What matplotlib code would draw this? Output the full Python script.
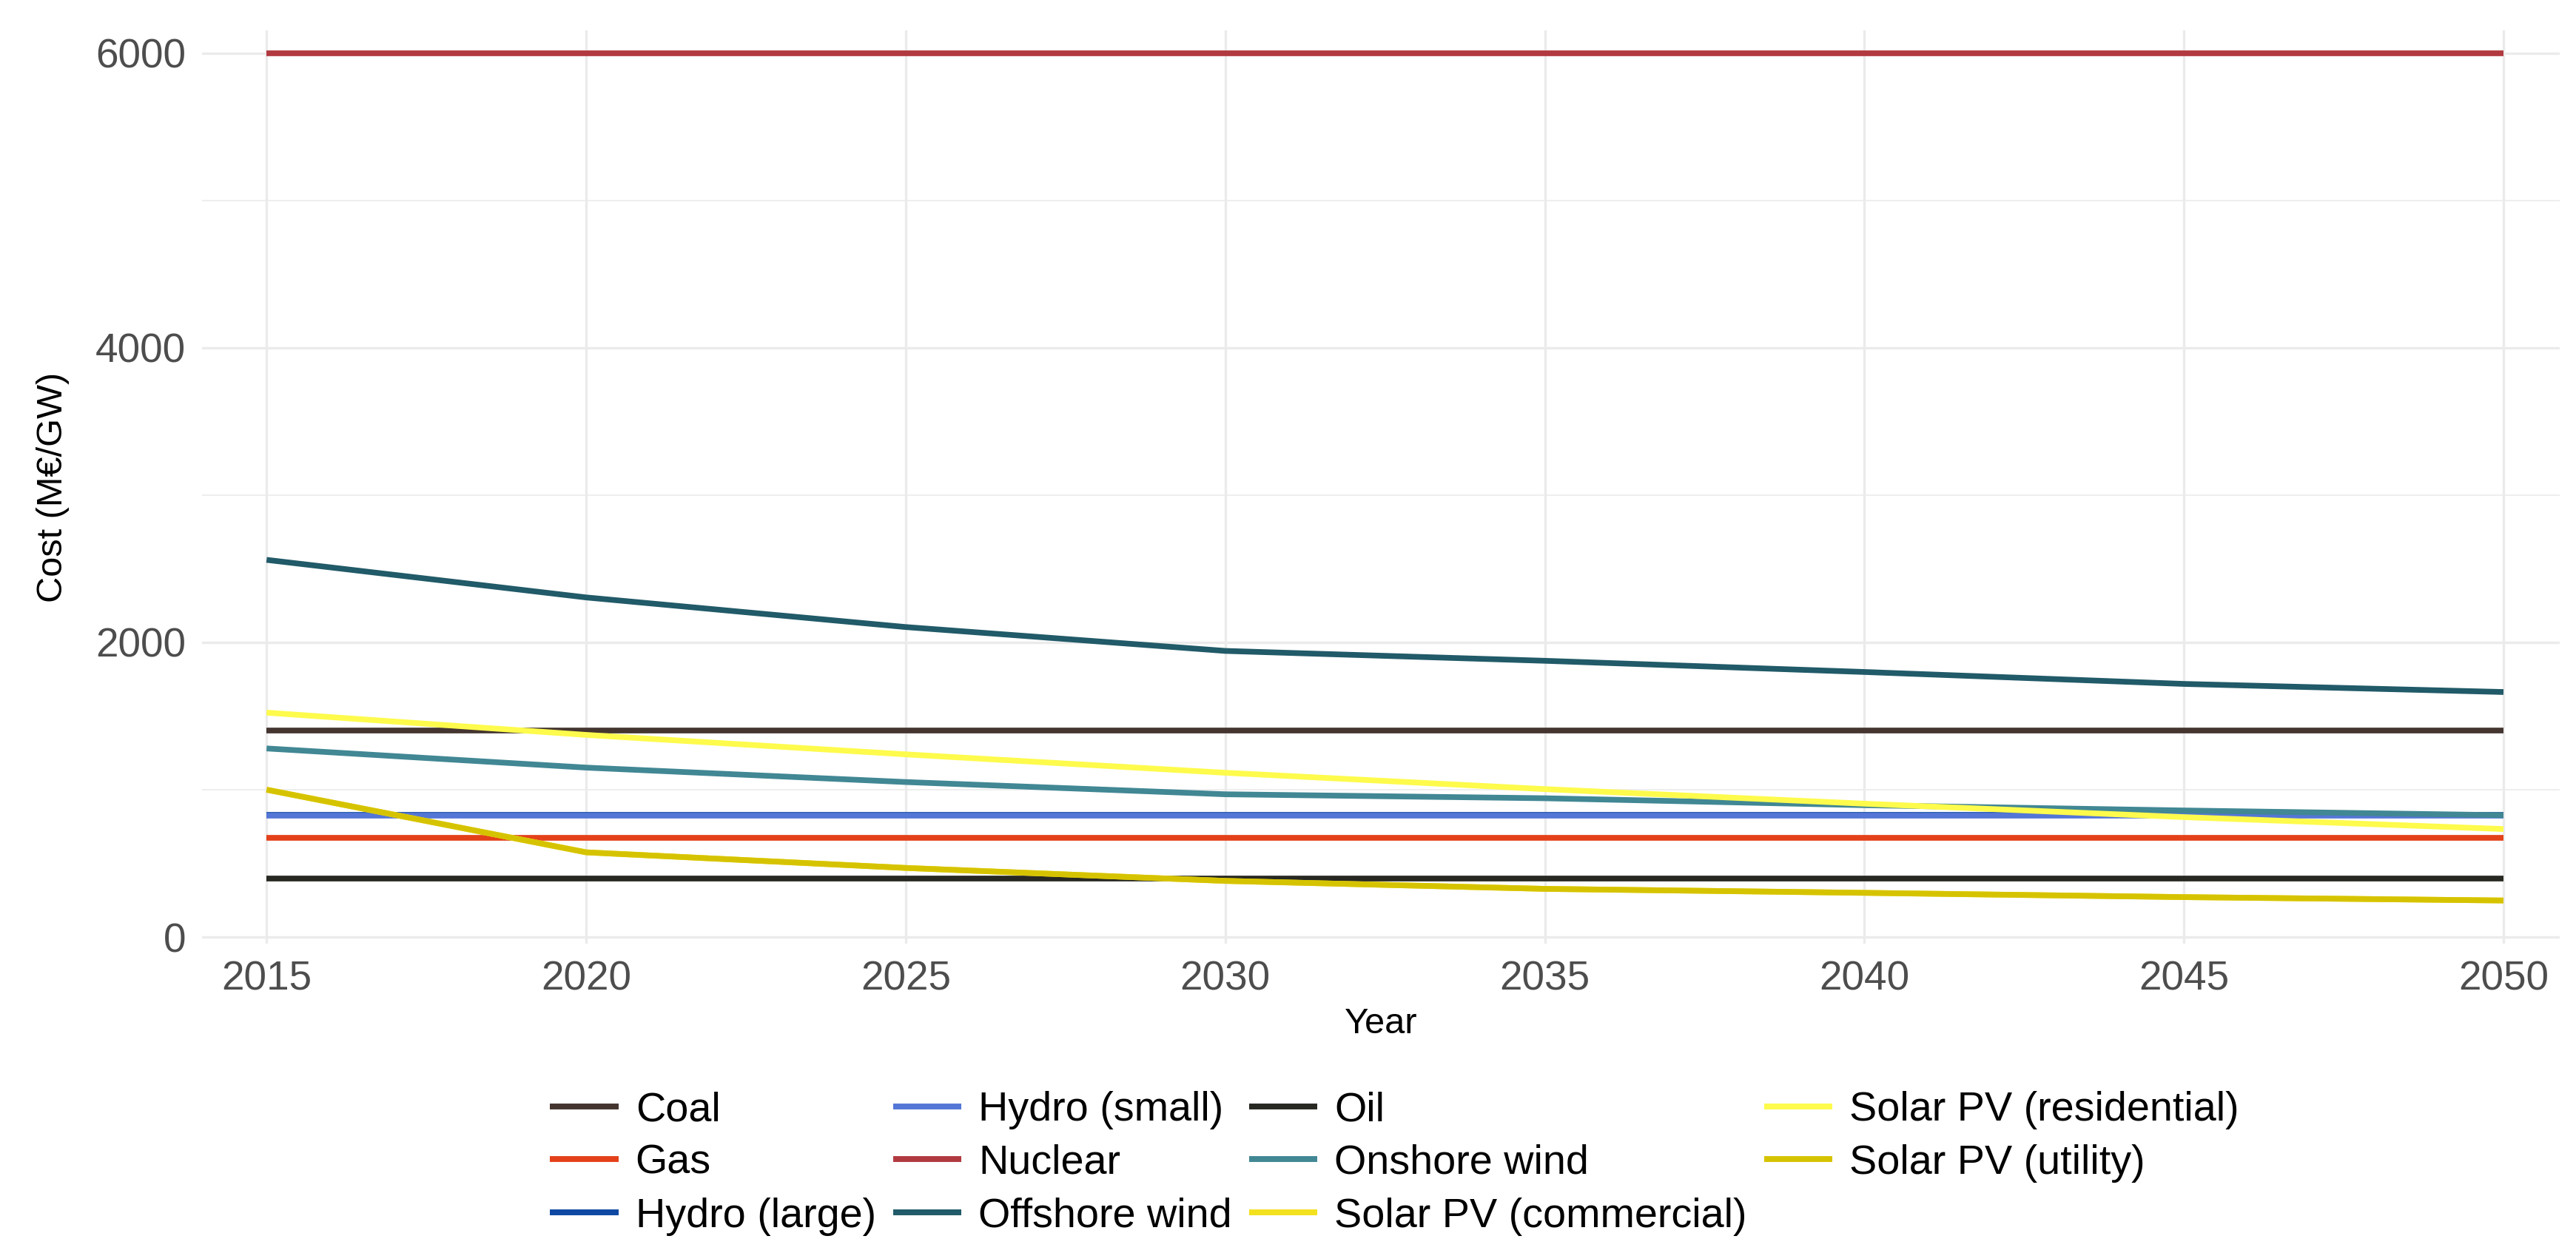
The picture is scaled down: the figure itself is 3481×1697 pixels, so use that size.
import matplotlib
matplotlib.use("Agg")
import matplotlib.pyplot as plt
from matplotlib.ticker import MultipleLocator

plt.rcParams['font.family'] = ['Liberation Sans', 'DejaVu Sans']

years = [2015, 2020, 2025, 2030, 2035, 2040, 2045, 2050]

technologies = ["Coal", "Gas", "Hydro (large)", "Hydro (small)", "Nuclear",
                "Offshore wind", "Oil", "Onshore wind", "Solar PV (commercial)",
                "Solar PV (residential)", "Solar PV (utility)"]

coal = [1400, 1400, 1400, 1400, 1400, 1400, 1400, 1400]
gas = [675, 675, 675, 675, 675, 675, 675, 675]
hydro_large = [830, 830, 830, 830, 830, 830, 830, 830]
hydro_small = [822, 822, 822, 822, 822, 822, 822, 822]
nuclear = [6000, 6000, 6000, 6000, 6000, 6000, 6000, 6000]
offshore_wind = [2560, 2305, 2104, 1942, 1875, 1799, 1718, 1663]
oil = [398, 398, 398, 398, 398, 398, 398, 398]
onshore_wind = [1280, 1150, 1052, 969, 942, 895, 859, 827]
solar_commercial = [1000, 575, 469, 381, 327, 300, 271, 248]
solar_residential = [1523, 1372, 1240, 1115, 1004, 905, 814, 733]
solar_utility = [1000, 575, 469, 381, 327, 300, 271, 248]

series = [coal, gas, hydro_large, hydro_small, nuclear, offshore_wind, oil,
          onshore_wind, solar_commercial, solar_residential, solar_utility]

colors = ["#443530", "#e4411a", "#0e48a2", "#5476d6", "#b13a40", "#215a68",
          "#272822", "#418794", "#f3e11f", "#fefb4c", "#d6c300"]

W, H = 3481, 1697
fig = plt.figure(figsize=(W / 300, H / 300), dpi=300)
left, right, top, bottom = 273, 3459, 41, 1275
ax = fig.add_axes([left / W, 1 - bottom / H, (right - left) / W, (bottom - top) / H])

for name, vals, c in zip(technologies, series, colors):
    ax.plot(years, vals, color=c, lw=1.85, label=name, solid_capstyle='butt')

ax.set_xlim(2013.99, 2050.88)
ax.set_ylim(-45, 6154)
ax.xaxis.set_major_locator(MultipleLocator(5))
ax.yaxis.set_major_locator(MultipleLocator(2000))
ax.yaxis.set_minor_locator(MultipleLocator(1000))

ax.grid(which='major', color='#ebebeb', lw=0.8)
ax.grid(which='minor', axis='y', color='#ebebeb', lw=0.4)
ax.set_axisbelow(True)
for s in ax.spines.values():
    s.set_visible(False)
ax.tick_params(which='both', length=0, labelsize=13.2, labelcolor='#4d4d4d', pad=5.3)

fig.text(72 / W, 1 - 658 / H, "Cost (M€/GW)", rotation=90, ha='center', va='center',
         fontsize=11.7, color='black')
fig.text(1866 / W, 1 - 1396 / H, "Year", ha='center', va='baseline',
         fontsize=11.7, color='black')

handles, labels = ax.get_legend_handles_labels()
leg = fig.legend(handles, labels, ncol=4, loc='center',
                 bbox_to_anchor=(1884.5 / W, 1 - 1572 / H),
                 frameon=False, fontsize=13.4, handlelength=1.66,
                 handletextpad=0.41, columnspacing=0.41, labelspacing=0.35,
                 borderpad=0, borderaxespad=0)
for line in leg.get_lines():
    line.set_linewidth(1.9)

fig.savefig("out.png", dpi=300, facecolor='white')
